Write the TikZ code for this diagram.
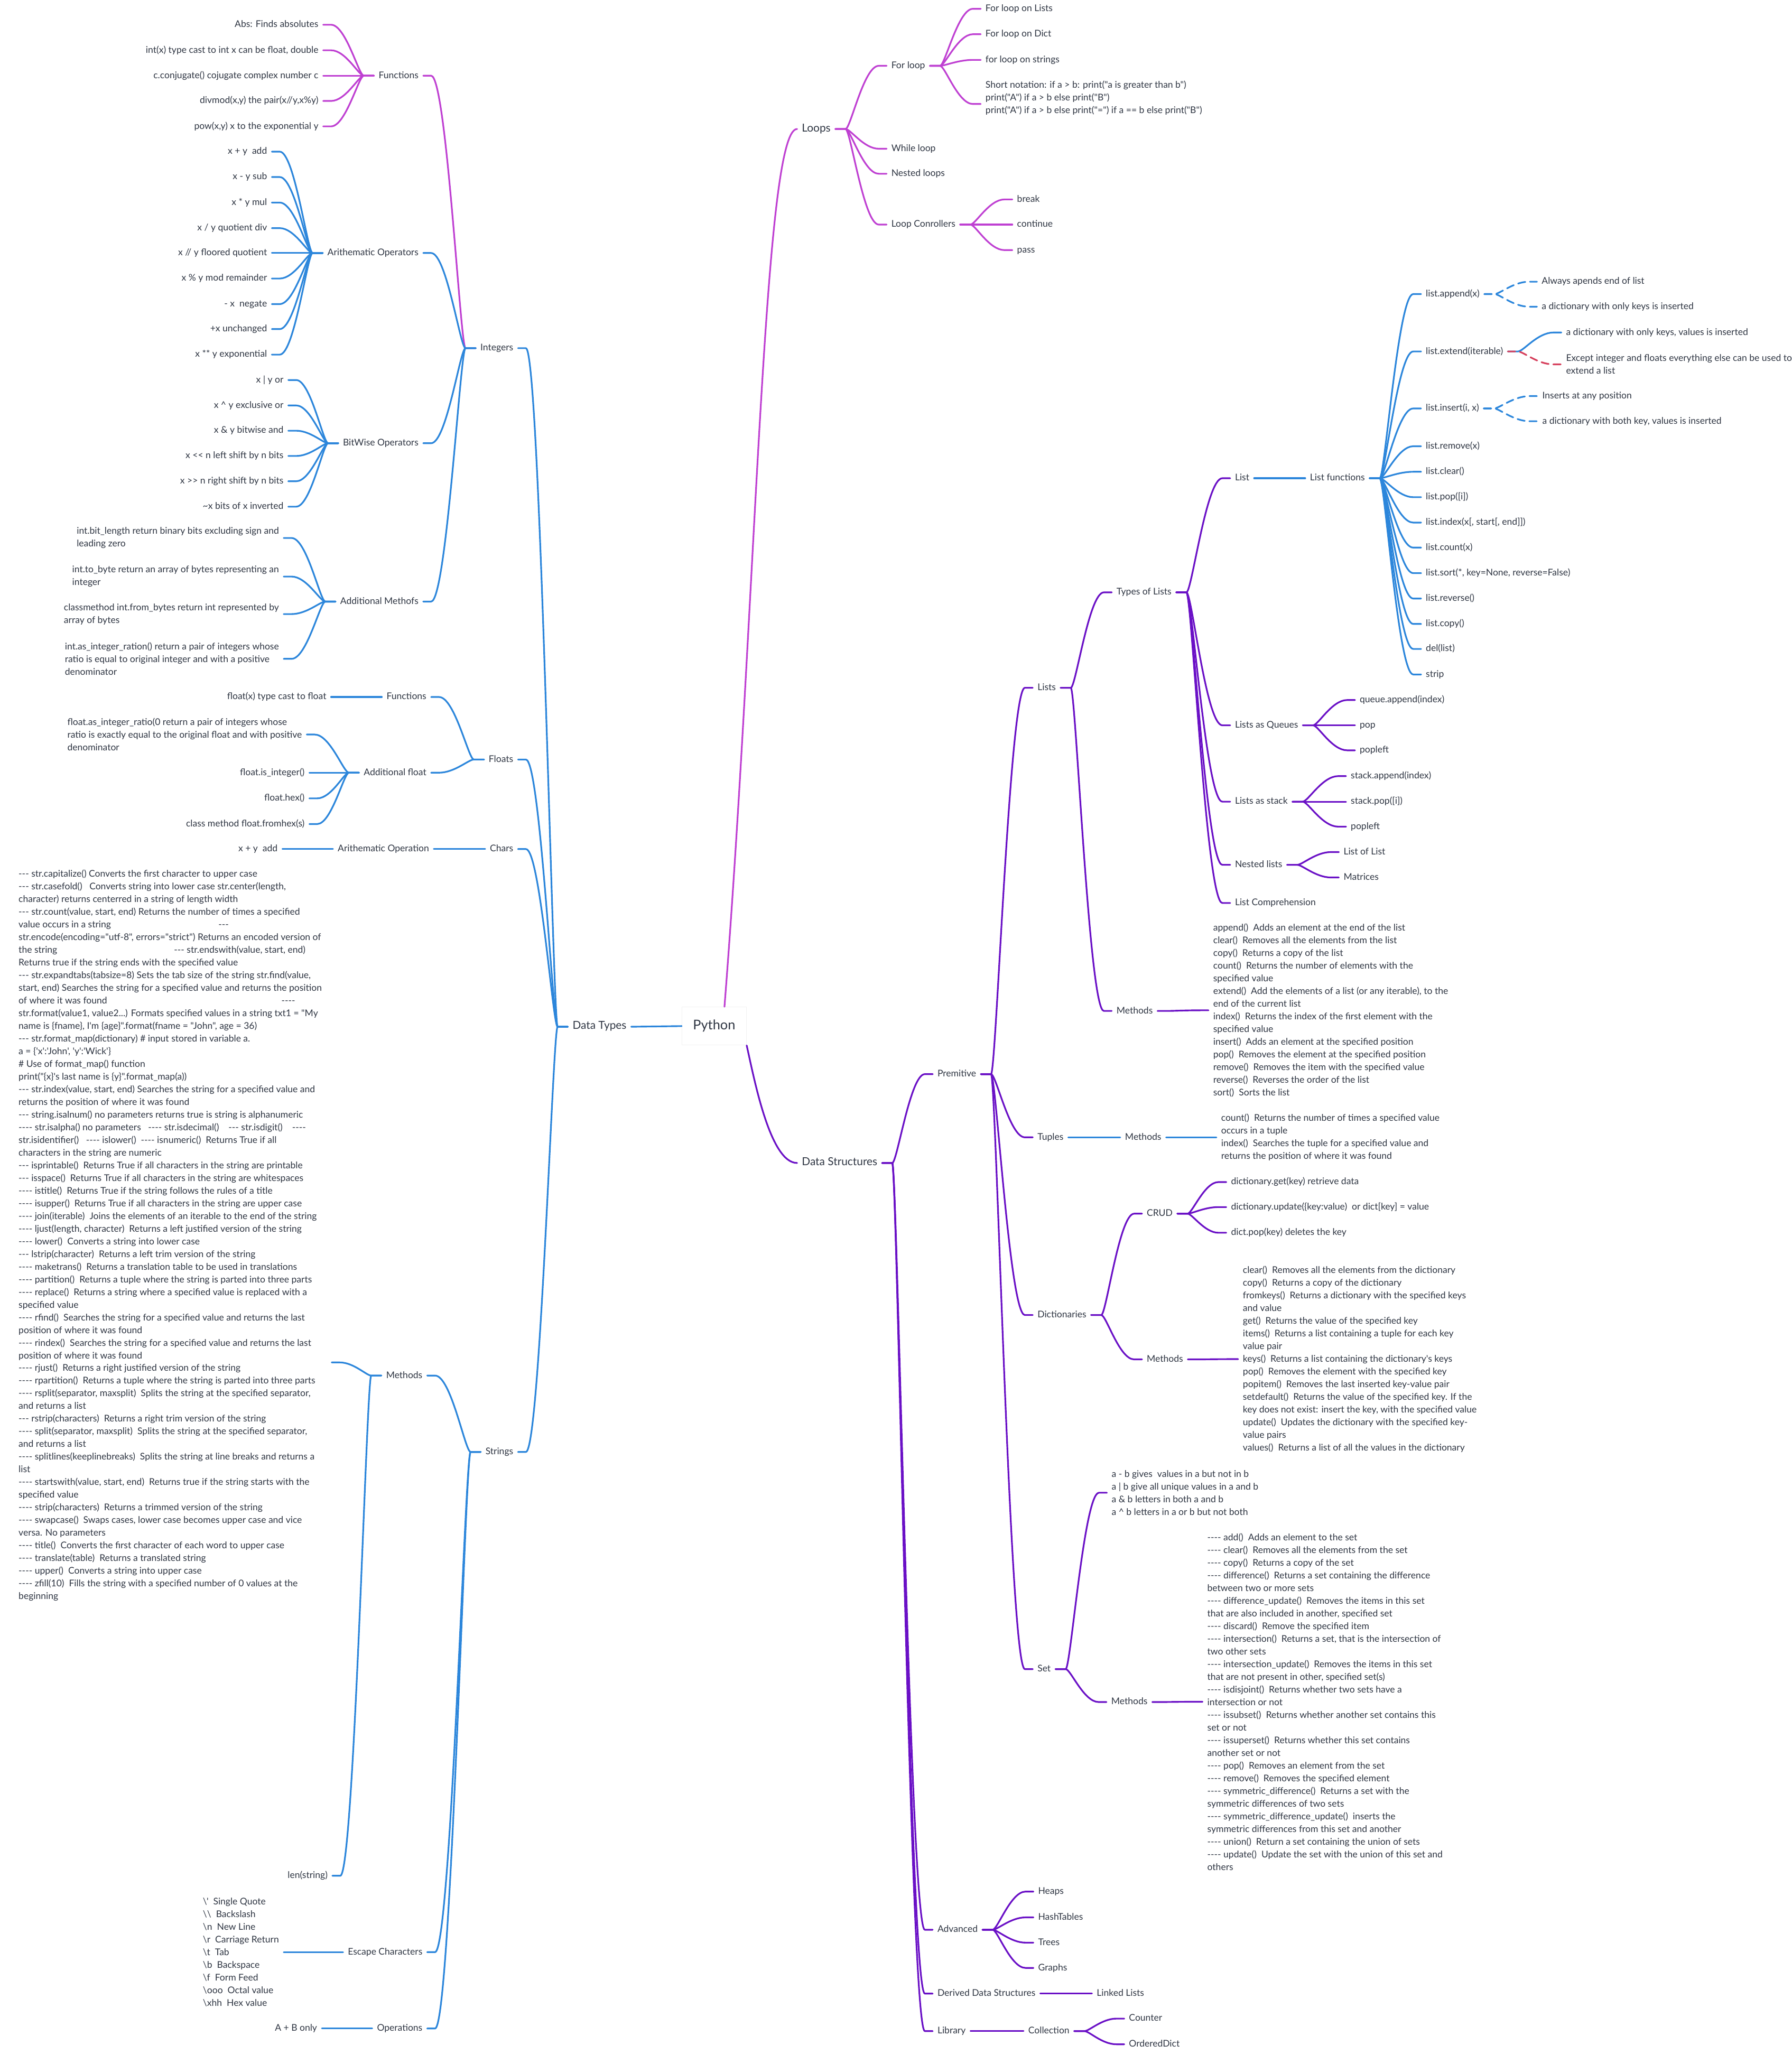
\documentclass[tikz,border=0pt]{standalone}
\usepackage{fontspec}
\setmainfont{Lato}[Ligatures=TeXOff]
\usetikzlibrary{calc}

\definecolor{ink}{HTML}{2E3542}
\definecolor{loopc}{HTML}{BF40D2}
\definecolor{typec}{HTML}{2C86DB}
\definecolor{structc}{HTML}{6A10C6}
\definecolor{warnc}{HTML}{D63F5C}

\newcommand\nfont{\fontsize{10}{13.7}\selectfont}
\newcommand\mfont{\fontsize{11.9}{13.7}\selectfont}
\newcommand\rfont{\fontsize{14.5}{17}\selectfont}

\begin{document}
\begin{tikzpicture}[x=0.5mm, y=-0.5mm, line cap=round, line join=round,
    lbl/.style={font=\nfont, text=ink, inner xsep=1.75mm, inner ysep=0.3mm,
      text height=1.55ex, text depth=0.45ex},
    blk/.style={font=\nfont, text=ink, inner xsep=1.75mm, inner ysep=0.3mm, align=left},
    rt/.style={anchor=west}, lt/.style={anchor=east},
    tor/.style={line width=1.8pt, to path={let \p1=(\tikztostart), \p2=(\tikztotarget) in
      -- (\x1+\stubp,\y1)
      .. controls ({0.85*(\x1+\stubp)+0.15*(\x2-\stubc)},\y1)
      and ({0.45*(\x1+\stubp)+0.55*(\x2-\stubc)},\y2)
      .. (\x2-\stubc,\y2) -- (\tikztotarget)}},
    tol/.style={line width=1.8pt, to path={let \p1=(\tikztostart), \p2=(\tikztotarget) in
      -- (\x1-\stubp,\y1)
      .. controls ({0.85*(\x1-\stubp)+0.15*(\x2+\stubc)},\y1)
      and ({0.45*(\x1-\stubp)+0.55*(\x2+\stubc)},\y2)
      .. (\x2+\stubc,\y2) -- (\tikztotarget)}},
    dsh/.style={dash pattern=on 8pt off 5pt}]
    \def\stubp{11pt}
    \def\stubc{8.5pt}

    \fill[white] (0,0) rectangle (1361,1568);
    \useasboundingbox (0,0) rectangle (1361,1568);

    % Centre topic and the three main branches
    \node[font=\rfont, text=ink, draw=black!5, fill=white, line width=0.6pt,
      minimum width=24.5mm, minimum height=14.5mm] (python) at (542.5,779.5) {Python};
    \node[lbl, rt, font=\mfont] (loops) at (605.5,98) {Loops};
    \node[lbl, rt, font=\mfont] (dstruct) at (605.5,883.5) {Data Structures};
    \node[lbl, lt, font=\mfont] (dtypes) at (479.5,780) {Data Types};

    \draw[typec, line width=1.8pt] (python.west) -- (dtypes.east);
    \draw[loopc, line width=1.8pt] (python.62) .. controls (575,450) and (580,98) .. (loops.west);
    \draw[structc, line width=1.8pt] (python.south east) .. controls (573,820) and (585,883.5) .. (dstruct.west);

    % Data Types: the four kinds
    \node[lbl, lt] (integers) at (393.5,264.5) {Integers};
    \node[lbl, lt] (floats) at (393.5,577) {Floats};
    \node[lbl, lt] (chars) at (393.5,645) {Chars};
    \node[lbl, lt] (strings) at (393.5,1103) {Strings};
    \draw[tol, typec] (dtypes.west) to (integers.east);
    \draw[tol, typec] (dtypes.west) to (floats.east);
    \draw[tol, typec] (dtypes.west) to (chars.east);
    \draw[tol, typec] (dtypes.west) to (strings.east);

    % Integers: functions
    \node[lbl, lt] (ifun) at (321.5,57.5) {Functions};
    \node[lbl, lt] (ifabs) at (245.5,18.8) {Abs: Finds absolutes};
    \node[lbl, lt] (ifint) at (245.5,38.2) {int(x) type cast to int x can be float, double};
    \node[lbl, lt] (ifconj) at (245.5,57.5) {c.conjugate() cojugate complex number c};
    \node[lbl, lt] (ifdiv) at (245.5,76.7) {divmod(x,y) the pair(x//y,x\%y)};
    \node[lbl, lt] (ifpow) at (245.5,96) {pow(x,y) x to the exponential y};
    \draw[tol, loopc] (integers.west) to (ifun.east);
    \draw[tol, loopc] (ifun.west) to (ifabs.east);
    \draw[tol, loopc] (ifun.west) to (ifint.east);
    \draw[tol, loopc] (ifun.west) to (ifconj.east);
    \draw[tol, loopc] (ifun.west) to (ifdiv.east);
    \draw[tol, loopc] (ifun.west) to (ifpow.east);

    % Integers: arithmetic operators
    \node[lbl, lt] (iarith) at (321.5,192.2) {Arithematic Operators};
    \node[lbl, lt] (ia1) at (206.5,115.2) {x + y~ add};
    \node[lbl, lt] (ia2) at (206.5,134.5) {x - y sub};
    \node[lbl, lt] (ia3) at (206.5,153.9) {x * y mul};
    \node[lbl, lt] (ia4) at (206.5,173.3) {x / y quotient div};
    \node[lbl, lt] (ia5) at (206.5,192.2) {x // y floored quotient};
    \node[lbl, lt] (ia6) at (206.5,211.6) {x \% y mod remainder};
    \node[lbl, lt] (ia7) at (206.5,231) {- x~ negate};
    \node[lbl, lt] (ia8) at (206.5,250) {+x unchanged};
    \node[lbl, lt] (ia9) at (206.5,269.4) {x ** y exponential};
    \draw[tol, typec] (integers.west) to (iarith.east);
    \draw[tol, typec] (iarith.west) to (ia1.east);
    \draw[tol, typec] (iarith.west) to (ia2.east);
    \draw[tol, typec] (iarith.west) to (ia3.east);
    \draw[tol, typec] (iarith.west) to (ia4.east);
    \draw[tol, typec] (iarith.west) to (ia5.east);
    \draw[tol, typec] (iarith.west) to (ia6.east);
    \draw[tol, typec] (iarith.west) to (ia7.east);
    \draw[tol, typec] (iarith.west) to (ia8.east);
    \draw[tol, typec] (iarith.west) to (ia9.east);

    % Integers: bitwise operators
    \node[lbl, lt] (ibit) at (321.5,336.7) {BitWise Operators};
    \node[lbl, lt] (ib1) at (219,288.7) {x | y or};
    \node[lbl, lt] (ib2) at (219,308) {x \textasciicircum{} y exclusive or};
    \node[lbl, lt] (ib3) at (219,327.2) {x \& y bitwise and};
    \node[lbl, lt] (ib4) at (219,346.4) {x << n left shift by n bits};
    \node[lbl, lt] (ib5) at (219,365.6) {x >> n right shift by n bits};
    \node[lbl, lt] (ib6) at (219,384.9) {\textasciitilde x bits of x inverted};
    \draw[tol, typec] (integers.west) to (ibit.east);
    \draw[tol, typec] (ibit.west) to (ib1.east);
    \draw[tol, typec] (ibit.west) to (ib2.east);
    \draw[tol, typec] (ibit.west) to (ib3.east);
    \draw[tol, typec] (ibit.west) to (ib4.east);
    \draw[tol, typec] (ibit.west) to (ib5.east);
    \draw[tol, typec] (ibit.west) to (ib6.east);

    % Integers: additional methods
    \node[lbl, lt] (iadd) at (321.5,457) {Additional Methofs};
    \node[blk, lt] (iam1) at (215.5,408.7) {int.bit\_length return binary bits excluding sign and\\leading zero};
    \node[blk, lt] (iam2) at (215.5,438) {int.to\_byte return an array of bytes representing an\\integer};
    \node[blk, lt] (iam3) at (215.5,466.5) {classmethod int.from\_bytes return int represented by\\array of bytes};
    \node[blk, lt] (iam4) at (215.5,500.5) {int.as\_integer\_ration() return a pair of integers whose\\ratio is equal to original integer and with a positive\\denominator};
    \draw[tol, typec] (integers.west) to (iadd.east);
    \draw[tol, typec] (iadd.west) to (iam1.east);
    \draw[tol, typec] (iadd.west) to (iam2.east);
    \draw[tol, typec] (iadd.west) to (iam3.east);
    \draw[tol, typec] (iadd.west) to (iam4.east);

    % Floats
    \node[lbl, lt] (ffun) at (327.5,529.5) {Functions};
    \node[lbl, lt] (ffcast) at (251.5,529.5) {float(x) type cast to float};
    \node[lbl, lt] (fadd) at (327.5,587) {Additional float};
    \node[blk, lt] (fa1) at (233,558) {float.as\_integer\_ratio(0 return a pair of integers whose\\ratio is exactly equal to the original float and with positive\\denominator};
    \node[lbl, lt] (fa2) at (235,587) {float.is\_integer()};
    \node[lbl, lt] (fa3) at (235,606.5) {float.hex()};
    \node[lbl, lt] (fa4) at (235,626) {class method float.fromhex(s)};
    \draw[tol, typec] (floats.west) to (ffun.east);
    \draw[tol, typec] (floats.west) to (fadd.east);
    \draw[tol, typec] (ffun.west) to (ffcast.east);
    \draw[tol, typec] (fadd.west) to (fa1.east);
    \draw[tol, typec] (fadd.west) to (fa2.east);
    \draw[tol, typec] (fadd.west) to (fa3.east);
    \draw[tol, typec] (fadd.west) to (fa4.east);

    % Chars
    \node[lbl, lt] (caop) at (329.5,645) {Arithematic Operation};
    \node[lbl, lt] (cadd) at (214.5,645) {x + y~ add};
    \draw[tol, typec] (chars.west) to (caop.east);
    \draw[tol, typec] (caop.west) to (cadd.east);

    % Strings: methods
    \node[lbl, lt] (smeth) at (324.5,1045) {Methods};
    \node[blk, rt] (sblock) at (10.5,938.5) {--- str.capitalize() Converts the first character to upper case\\
--- str.casefold()~~ Converts string into lower case str.center(length,\\
character) returns centerred in a string of length width\\
--- str.count(value, start, end) Returns the number of times a specified\\
\makebox[216pt][l]{value occurs in a string}---\\
str.encode(encoding="utf-8", errors="strict") Returns an encoded version of\\
\makebox[168pt][l]{the string}--- str.endswith(value, start, end)\\
Returns true if the string ends with the specified value\\
--- str.expandtabs(tabsize=8) Sets the tab size of the string str.find(value,\\
start, end) Searches the string for a specified value and returns the position\\
\makebox[284pt][l]{of where it was found}----\\
str.format(value1, value2...) Formats specified values in a string txt1 = "My\\
name is \{fname\}, I'm \{age\}".format(fname = "John", age = 36)\\
--- str.format\_map(dictionary) \# input stored in variable a.\\
a = \{'x':'John', 'y':'Wick'\}\\
\# Use of format\_map() function\\
print("\{x\}'s last name is \{y\}".format\_map(a))\\
--- str.index(value, start, end) Searches the string for a specified value and\\
returns the position of where it was found\\
--- string.isalnum() no parameters returns true is string is alphanumeric\\
---- str.isalpha() no parameters~~ ---- str.isdecimal()~~~ --- str.isdigit()~~~ ----\\
str.isidentifier()~~ ---- islower()~ ---- isnumeric()~ Returns True if all\\
characters in the string are numeric\\
--- isprintable()~ Returns True if all characters in the string are printable\\
--- isspace()~ Returns True if all characters in the string are whitespaces\\
---- istitle()~ Returns True if the string follows the rules of a title\\
---- isupper()~ Returns True if all characters in the string are upper case\\
---- join(iterable)~ Joins the elements of an iterable to the end of the string\\
---- ljust(length, character)~ Returns a left justified version of the string\\
---- lower()~ Converts a string into lower case\\
--- lstrip(character)~ Returns a left trim version of the string\\
---- maketrans()~ Returns a translation table to be used in translations\\
---- partition()~ Returns a tuple where the string is parted into three parts\\
---- replace()~ Returns a string where a specified value is replaced with a\\
specified value\\
---- rfind()~ Searches the string for a specified value and returns the last\\
position of where it was found\\
---- rindex()~ Searches the string for a specified value and returns the last\\
position of where it was found\\
---- rjust()~ Returns a right justified version of the string\\
---- rpartition()~ Returns a tuple where the string is parted into three parts\\
---- rsplit(separator, maxsplit)~ Splits the string at the specified separator,\\
and returns a list\\
--- rstrip(characters)~ Returns a right trim version of the string\\
---- split(separator, maxsplit)~ Splits the string at the specified separator,\\
and returns a list\\
---- splitlines(keeplinebreaks)~ Splits the string at line breaks and returns a\\
list\\
---- startswith(value, start, end)~ Returns true if the string starts with the\\
specified value\\
---- strip(characters)~ Returns a trimmed version of the string\\
---- swapcase()~ Swaps cases, lower case becomes upper case and vice\\
versa. No parameters\\
---- title()~ Converts the first character of each word to upper case\\
---- translate(table)~ Returns a translated string\\
---- upper()~ Converts a string into upper case\\
---- zfill(10)~ Fills the string with a specified number of 0 values at the\\
beginning};
    \coordinate (sbat) at (252,1035);
    \node[lbl, lt] (slen) at (252.5,1425) {len(string)};
    \draw[tol, typec] (strings.west) to (smeth.east);
    \draw[tol, typec] (smeth.west) to (sbat);
    \draw[tol, typec] (smeth.west) to (slen.east);

    % Strings: escape characters and operations
    \node[lbl, lt] (sesc) at (324.5,1483) {Escape Characters};
    \node[blk, lt] (sescb) at (215.5,1483) {\textbackslash'~ Single Quote\\
\textbackslash\textbackslash~ Backslash\\
\textbackslash n~ New Line\\
\textbackslash r~ Carriage Return\\
\textbackslash t~ Tab\\
\textbackslash b~ Backspace\\
\textbackslash f~ Form Feed\\
\textbackslash ooo~ Octal value\\
\textbackslash xhh~ Hex value};
    \node[lbl, lt] (sops) at (324.5,1541) {Operations};
    \node[lbl, lt] (sab) at (244.5,1541) {A + B only};
    \draw[tol, typec] (strings.west) to (sesc.east);
    \draw[tol, typec] (strings.west) to (sops.east);
    \draw[tol, typec] (sesc.west) to (sescb.east);
    \draw[tol, typec] (sops.west) to (sab.east);

    % Loops
    \node[lbl, rt] (forloop) at (673.5,50) {For loop};
    \node[lbl, rt] (whileloop) at (673.5,113) {While loop};
    \node[lbl, rt] (nestloop) at (673.5,132) {Nested loops};
    \node[lbl, rt] (loopctl) at (673.5,170.6) {Loop Conrollers};
    \draw[tor, loopc] (loops.east) to (forloop.west);
    \draw[tor, loopc] (loops.east) to (whileloop.west);
    \draw[tor, loopc] (loops.east) to (nestloop.west);
    \draw[tor, loopc] (loops.east) to (loopctl.west);

    % Loops: for loop
    \node[lbl, rt] (fl1) at (745,6.7) {For loop on Lists};
    \node[lbl, rt] (fl2) at (745,26) {For loop on Dict};
    \node[lbl, rt] (fl3) at (745,45.5) {for loop on strings};
    \node[blk, rt] (fl4) at (745,74.5) {Short notation: if a > b: print("a is greater than b")\\print("A") if a > b else print("B")\\print("A") if a > b else print("=") if a == b else print("B")};
    \coordinate (fl4at) at (745,79);
    \draw[tor, loopc] (forloop.east) to (fl1.west);
    \draw[tor, loopc] (forloop.east) to (fl2.west);
    \draw[tor, loopc] (forloop.east) to (fl3.west);
    \draw[tor, loopc] (forloop.east) to (fl4at);

    % Loops: controllers
    \node[lbl, rt] (lcbrk) at (769,151.5) {break};
    \node[lbl, rt] (lccont) at (769,170.6) {continue};
    \node[lbl, rt] (lcpass) at (769,190) {pass};
    \draw[tor, loopc] (loopctl.east) to (lcbrk.west);
    \draw[tor, loopc] (loopctl.east) to (lccont.west);
    \draw[tor, loopc] (loopctl.east) to (lcpass.west);

    % Data Structures
    \node[lbl, rt] (premitive) at (708.5,816) {Premitive};
    \node[lbl, rt] (advanced) at (708.5,1466) {Advanced};
    \node[lbl, rt] (derived) at (708.5,1514.5) {Derived Data Structures};
    \node[lbl, rt] (library) at (708.5,1543) {Library};
    \draw[tor, structc] (dstruct.east) to (premitive.west);
    \draw[tor, structc] (dstruct.east) to (advanced.west);
    \draw[tor, structc] (dstruct.east) to (derived.west);
    \draw[tor, structc] (dstruct.east) to (library.west);

    % Advanced, derived, library
    \node[lbl, rt] (heaps) at (785,1437) {Heaps};
    \node[lbl, rt] (hasht) at (785,1456.6) {HashTables};
    \node[lbl, rt] (trees) at (785,1475.8) {Trees};
    \node[lbl, rt] (graphs) at (785,1495) {Graphs};
    \node[lbl, rt] (linked) at (829.5,1514.5) {Linked Lists};
    \node[lbl, rt] (collect) at (777.5,1543) {Collection};
    \node[lbl, rt] (counter) at (854,1533.5) {Counter};
    \node[lbl, rt] (odict) at (854,1553) {OrderedDict};
    \draw[tor, structc] (advanced.east) to (heaps.west);
    \draw[tor, structc] (advanced.east) to (hasht.west);
    \draw[tor, structc] (advanced.east) to (trees.west);
    \draw[tor, structc] (advanced.east) to (graphs.west);
    \draw[tor, structc] (derived.east) to (linked.west);
    \draw[tor, structc] (library.east) to (collect.west);
    \draw[tor, structc] (collect.east) to (counter.west);
    \draw[tor, structc] (collect.east) to (odict.west);

    % Premitive
    \node[lbl, rt] (lists) at (784.5,522.5) {Lists};
    \node[lbl, rt] (tuples) at (784.5,864) {Tuples};
    \node[lbl, rt] (dicts) at (784.5,999) {Dictionaries};
    \node[lbl, rt] (sets) at (784.5,1268) {Set};
    \draw[tor, structc] (premitive.east) to (lists.west);
    \draw[tor, structc] (premitive.east) to (tuples.west);
    \draw[tor, structc] (premitive.east) to (dicts.west);
    \draw[tor, structc] (premitive.east) to (sets.west);

    % Lists
    \node[lbl, rt] (typesl) at (844.5,450) {Types of Lists};
    \node[lbl, rt] (lmeth) at (844.5,768) {Methods};
    \node[blk, rt] (lmblock) at (918,767.5) {append()~ Adds an element at the end of the list\\
clear()~ Removes all the elements from the list\\
copy()~ Returns a copy of the list\\
count()~ Returns the number of elements with the\\
specified value\\
extend()~ Add the elements of a list (or any iterable), to the\\
end of the current list\\
index()~ Returns the index of the first element with the\\
specified value\\
insert()~ Adds an element at the specified position\\
pop()~ Removes the element at the specified position\\
remove()~ Removes the item with the specified value\\
reverse()~ Reverses the order of the list\\
sort()~ Sorts the list};
    \draw[tor, structc] (lists.east) to (typesl.west);
    \draw[tor, structc] (lists.east) to (lmeth.west);
    \draw[tor, structc] (lmeth.east) to (lmblock.west);

    % Types of lists
    \node[lbl, rt] (listn) at (934.5,363.3) {List};
    \node[lbl, rt] (lqueue) at (934.5,551) {Lists as Queues};
    \node[lbl, rt] (lstack) at (934.5,609) {Lists as stack};
    \node[lbl, rt] (lnest) at (934.5,657) {Nested lists};
    \node[lbl, rt] (lcomp) at (934.5,686) {List Comprehension};
    \draw[tor, structc] (typesl.east) to (listn.west);
    \draw[tor, structc] (typesl.east) to (lqueue.west);
    \draw[tor, structc] (typesl.east) to (lstack.west);
    \draw[tor, structc] (typesl.east) to (lnest.west);
    \draw[tor, structc] (typesl.east) to (lcomp.west);

    % List functions
    \node[lbl, rt] (listfn) at (991.5,363.3) {List functions};
    \node[lbl, rt] (lfappend) at (1079.5,223.4) {list.append(x)};
    \node[lbl, rt] (lfextend) at (1079.5,267) {list.extend(iterable)};
    \node[lbl, rt] (lfinsert) at (1079.5,310.3) {list.insert(i, x)};
    \node[lbl, rt] (lfremove) at (1079.5,339) {list.remove(x)};
    \node[lbl, rt] (lfclear) at (1079.5,358.4) {list.clear()};
    \node[lbl, rt] (lfpop) at (1079.5,377.7) {list.pop([i])};
    \node[lbl, rt] (lfindex) at (1079.5,397) {list.index(x[, start[, end]])};
    \node[lbl, rt] (lfcount) at (1079.5,416) {list.count(x)};
    \node[lbl, rt] (lfsort) at (1079.5,435.4) {list.sort(*, key=None, reverse=False)};
    \node[lbl, rt] (lfrev) at (1079.5,454.7) {list.reverse()};
    \node[lbl, rt] (lfcopy) at (1079.5,474) {list.copy()};
    \node[lbl, rt] (lfdel) at (1079.5,493) {del(list)};
    \node[lbl, rt] (lfstrip) at (1079.5,512.4) {strip};
    \draw[tor, typec] (listn.east) to (listfn.west);
    \draw[tor, typec] (listfn.east) to (lfappend.west);
    \draw[tor, typec] (listfn.east) to (lfextend.west);
    \draw[tor, typec] (listfn.east) to (lfinsert.west);
    \draw[tor, typec] (listfn.east) to (lfremove.west);
    \draw[tor, typec] (listfn.east) to (lfclear.west);
    \draw[tor, typec] (listfn.east) to (lfpop.west);
    \draw[tor, typec] (listfn.east) to (lfindex.west);
    \draw[tor, typec] (listfn.east) to (lfcount.west);
    \draw[tor, typec] (listfn.east) to (lfsort.west);
    \draw[tor, typec] (listfn.east) to (lfrev.west);
    \draw[tor, typec] (listfn.east) to (lfcopy.west);
    \draw[tor, typec] (listfn.east) to (lfdel.west);
    \draw[tor, typec] (listfn.east) to (lfstrip.west);

    % append, extend, insert notes
    \node[lbl, rt] (ap1) at (1167.5,214) {Always apends end of list};
    \node[lbl, rt] (ap2) at (1167.5,233) {a dictionary with only keys is inserted};
    \node[lbl, rt] (ex1) at (1186,252.6) {a dictionary with only keys, values is inserted};
    \node[blk, rt] (ex2) at (1186,276.8) {Except integer and floats everything else can be used to\\extend a list};
    \node[lbl, rt] (in1) at (1168,300.9) {Inserts at any position};
    \node[lbl, rt] (in2) at (1168,320) {a dictionary with both key, values is inserted};
    \draw[tor, typec, dsh] (lfappend.east) to (ap1.west);
    \draw[tor, typec, dsh] (lfappend.east) to (ap2.west);
    \draw[tor, typec] (lfextend.east) to (ex1.west);
    \draw[tor, warnc, dsh] (lfextend.east) to (ex2.west);
    \draw[tor, typec, dsh] (lfinsert.east) to (in1.west);
    \draw[tor, typec, dsh] (lfinsert.east) to (in2.west);

    % Queues, stack, nested
    \node[lbl, rt] (qa) at (1029.3,531.8) {queue.append(index)};
    \node[lbl, rt] (qp) at (1029.3,551) {pop};
    \node[lbl, rt] (qpl) at (1029.3,570) {popleft};
    \node[lbl, rt] (sa) at (1022.5,589.6) {stack.append(index)};
    \node[lbl, rt] (sp) at (1022.5,609) {stack.pop([i])};
    \node[lbl, rt] (spl) at (1022.5,628) {popleft};
    \node[lbl, rt] (lol) at (1017,647.3) {List of List};
    \node[lbl, rt] (mat) at (1017,666.6) {Matrices};
    \draw[tor, structc] (lqueue.east) to (qa.west);
    \draw[tor, structc] (lqueue.east) to (qp.west);
    \draw[tor, structc] (lqueue.east) to (qpl.west);
    \draw[tor, structc] (lstack.east) to (sa.west);
    \draw[tor, structc] (lstack.east) to (sp.west);
    \draw[tor, structc] (lstack.east) to (spl.west);
    \draw[tor, structc] (lnest.east) to (lol.west);
    \draw[tor, structc] (lnest.east) to (mat.west);

    % Tuples
    \node[lbl, rt] (tmeth) at (851,864) {Methods};
    \node[blk, rt] (tblock) at (924,864) {count()~ Returns the number of times a specified value\\occurs in a tuple\\index()~ Searches the tuple for a specified value and\\returns the position of where it was found};
    \draw[tor, typec] (tuples.east) to (tmeth.west);
    \draw[tor, typec] (tmeth.east) to (tblock.west);

    % Dictionaries
    \node[lbl, rt] (crud) at (867.5,922) {CRUD};
    \node[lbl, rt] (cr1) at (931.5,898) {dictionary.get(key) retrieve data};
    \node[lbl, rt] (cr2) at (931.5,917) {dictionary.update(\{key:value)~ or dict[key] = value};
    \node[lbl, rt] (cr3) at (931.5,936.5) {dict.pop(key) deletes the key};
    \node[lbl, rt] (dmeth) at (867.5,1032.7) {Methods};
    \node[blk, rt] (dblock) at (940.5,1032.5) {clear()~ Removes all the elements from the dictionary\\
copy()~ Returns a copy of the dictionary\\
fromkeys()~ Returns a dictionary with the specified keys\\
and value\\
get()~ Returns the value of the specified key\\
items()~ Returns a list containing a tuple for each key\\
value pair\\
keys()~ Returns a list containing the dictionary's keys\\
pop()~ Removes the element with the specified key\\
popitem()~ Removes the last inserted key-value pair\\
setdefault()~ Returns the value of the specified key. If the\\
key does not exist: insert the key, with the specified value\\
update()~ Updates the dictionary with the specified key-\\
value pairs\\
values()~ Returns a list of all the values in the dictionary};
    \draw[tor, structc] (dicts.east) to (crud.west);
    \draw[tor, structc] (dicts.east) to (dmeth.west);
    \draw[tor, structc] (crud.east) to (cr1.west);
    \draw[tor, structc] (crud.east) to (cr2.west);
    \draw[tor, structc] (crud.east) to (cr3.west);
    \draw[tor, structc] (dmeth.east) to (dblock.west);

    % Set
    \node[blk, rt] (setops) at (840.8,1134) {a - b gives~ values in a but not in b\\a | b give all unique values in a and b\\a \& b letters in both a and b\\a \textasciicircum{} b letters in a or b but not both};
    \node[lbl, rt] (smeth2) at (840.5,1293) {Methods};
    \node[blk, rt] (smblock) at (913.5,1292.8) {---- add()~ Adds an element to the set\\
---- clear()~ Removes all the elements from the set\\
---- copy()~ Returns a copy of the set\\
---- difference()~ Returns a set containing the difference\\
between two or more sets\\
---- difference\_update()~ Removes the items in this set\\
that are also included in another, specified set\\
---- discard()~ Remove the specified item\\
---- intersection()~ Returns a set, that is the intersection of\\
two other sets\\
---- intersection\_update()~ Removes the items in this set\\
that are not present in other, specified set(s)\\
---- isdisjoint()~ Returns whether two sets have a\\
intersection or not\\
---- issubset()~ Returns whether another set contains this\\
set or not\\
---- issuperset()~ Returns whether this set contains\\
another set or not\\
---- pop()~ Removes an element from the set\\
---- remove()~ Removes the specified element\\
---- symmetric\_difference()~ Returns a set with the\\
symmetric differences of two sets\\
---- symmetric\_difference\_update()~ inserts the\\
symmetric differences from this set and another\\
---- union()~ Return a set containing the union of sets\\
---- update()~ Update the set with the union of this set and\\
others};
    \draw[tor, structc] (sets.east) to (setops.west);
    \draw[tor, structc] (sets.east) to (smeth2.west);
    \draw[tor, structc] (smeth2.east) to (smblock.west);
\end{tikzpicture}
\end{document}
